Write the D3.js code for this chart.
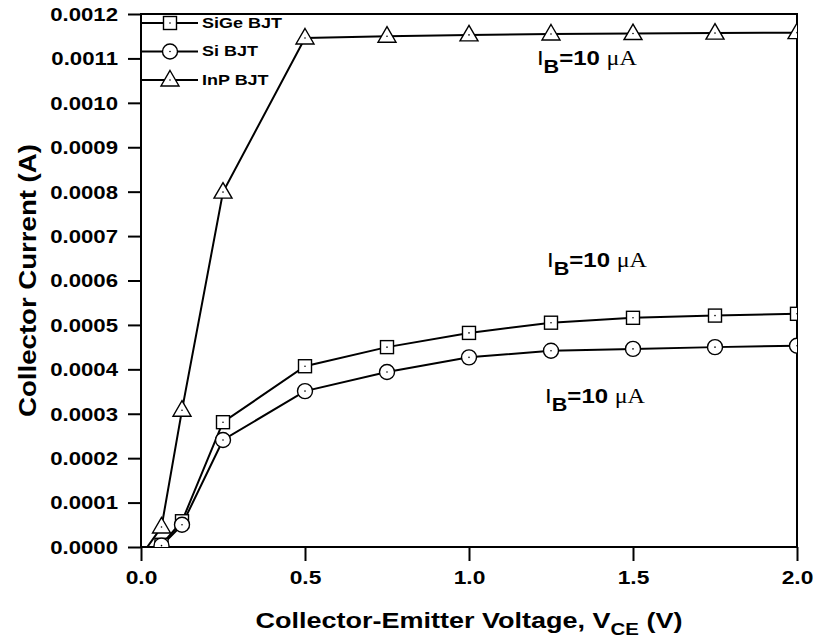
<!DOCTYPE html>
<html>
<head>
<meta charset="utf-8">
<script src="https://cdn.jsdelivr.net/npm/d3@7/dist/d3.min.js"></script>
<style>
  html, body { margin: 0; padding: 0; background: #fff; }
  svg { display: block; }
</style>
</head>
<body>
<svg id="chart" width="813" height="644"></svg>
<script>
// ---- data ----
const vce = [0, 0.0625, 0.125, 0.25, 0.5, 0.75, 1.0, 1.25, 1.5, 1.75, 2.0];
const sigeCurrent = [-0.00002, 0.000005, 0.000058, 0.000281, 0.000407, 0.00045, 0.000482, 0.000505, 0.000516, 0.000521, 0.000525];
const siCurrent   = [-0.00002, 0.000003, 0.00005, 0.000241, 0.000351, 0.000394, 0.000427, 0.000442, 0.000446, 0.00045, 0.000453];
const inpCurrent  = [-0.00002, 0.000045, 0.000308, 0.000799, 0.001146, 0.00115, 0.001153, 0.001155, 0.001156, 0.001157, 0.001158];
const seriesNames = ["SiGe BJT", "Si BJT", "InP BJT"];
const seriesMarkers = ["square", "circle", "triangle"];
const xTicks = [0, 0.5, 1.0, 1.5, 2.0];
const yTicks = [0, 0.0001, 0.0002, 0.0003, 0.0004, 0.0005, 0.0006, 0.0007, 0.0008, 0.0009, 0.0010, 0.0011, 0.0012];
const annotX = [1.207, 1.238, 1.232];
const annotY = [0.001085, 0.00063, 0.000324];

const series = [sigeCurrent, siCurrent, inpCurrent].map((vals, i) => ({
  name: seriesNames[i], marker: seriesMarkers[i],
  points: vce.map((x, j) => ({x, y: vals[j]}))
}));

// ---- layout ----
const margin = {left: 141, top: 14, right: 813 - 797, bottom: 644 - 547};
const W = 813, H = 644;
const pw = W - margin.left - margin.right, ph = H - margin.top - margin.bottom;
const SX = 1.2; // horizontal text stretch
const sans = "'Liberation Sans', Arial, Helvetica, sans-serif";
const serif = "'Liberation Serif', 'Times New Roman', serif";

const svg = d3.select("#chart");
const x = d3.scaleLinear().domain([0, 2]).range([0, pw]);
const y = d3.scaleLinear().domain([0, 0.0012]).range([ph, 0]);

const g = svg.append("g").attr("transform", `translate(${margin.left},${margin.top})`);

svg.append("defs").append("clipPath").attr("id", "plotclip")
  .append("rect").attr("x", 0).attr("y", 0).attr("width", pw).attr("height", ph);

// axes
const yAxis = g.append("g").call(d3.axisLeft(y).tickValues(yTicks).tickFormat(d3.format(".4f")).tickSize(13).tickSizeOuter(0));
const xAxis = g.append("g").attr("transform", `translate(0,${ph})`)
  .call(d3.axisBottom(x).tickValues(xTicks).tickFormat(d3.format(".1f")).tickSize(14).tickSizeOuter(0));
[yAxis, xAxis].forEach(a => {
  a.select(".domain").remove();
  a.selectAll(".tick line").attr("stroke", "#000").attr("stroke-width", 2);
  a.selectAll(".tick text").attr("fill", "#000")
    .style("font-family", sans).style("font-weight", "bold").style("font-size", "18.5px");
});
yAxis.selectAll(".tick text").attr("x", 0).attr("dy", null)
  .attr("dominant-baseline", "central")
  .attr("transform", `translate(-23,0) scale(${SX},1)`);
xAxis.selectAll(".tick text").attr("y", 0).attr("dy", null)
  .style("font-size", "19px")
  .attr("transform", `translate(0,37) scale(${SX},1)`);

// frame
g.append("rect").attr("x", 0).attr("y", 0).attr("width", pw).attr("height", ph)
  .attr("fill", "none").attr("stroke", "#000").attr("stroke-width", 2);

// markers
function drawMarker(sel, type) {
  if (type === "square") {
    sel.append("rect").attr("x", -6.5).attr("y", -6.5).attr("width", 13).attr("height", 13)
      .attr("fill", "#fff").attr("stroke", "#000").attr("stroke-width", 1.4);
  } else if (type === "circle") {
    sel.append("circle").attr("r", 7.5)
      .attr("fill", "#fff").attr("stroke", "#000").attr("stroke-width", 1.4);
  } else {
    sel.append("path").attr("d", "M0,-9.5 L9,6 L-9,6 Z")
      .attr("fill", "#fff").attr("stroke", "#000").attr("stroke-width", 1.4);
  }
  sel.append("circle").attr("r", 0.8).attr("fill", "#000");
}

const plot = g.append("g").attr("clip-path", "url(#plotclip)");
const line = d3.line().x(d => x(d.x)).y(d => y(d.y));
series.forEach(s => {
  plot.append("path").datum(s.points).attr("d", line)
    .attr("fill", "none").attr("stroke", "#000").attr("stroke-width", 2);
});
series.forEach(s => {
  plot.selectAll(null).data(s.points).enter().append("g")
    .attr("transform", d => `translate(${x(d.x)},${y(d.y)})`)
    .each(function() { drawMarker(d3.select(this), s.marker); });
});

// legend
const legend = g.append("g");
series.forEach((s, i) => {
  const ly = 9 + i * 28.5;
  const row = legend.append("g").attr("transform", `translate(0,${ly})`);
  row.append("line").attr("x1", 1).attr("x2", 57).attr("y1", 0).attr("y2", 0)
    .attr("stroke", "#000").attr("stroke-width", 2);
  drawMarker(row.append("g").attr("transform", "translate(29,0)"), s.marker);
  row.append("text").attr("transform", `translate(61,0) scale(${SX},1)`)
    .attr("dominant-baseline", "central")
    .style("font-family", sans).style("font-weight", "bold").style("font-size", "15px")
    .text(s.name);
});

// annotations
annotX.forEach((ax, i) => {
  const t = g.append("text").attr("transform", `translate(${x(ax)},${y(annotY[i])}) scale(${SX},1)`)
    .style("font-family", sans).style("font-size", "20px").attr("fill", "#000");
  t.append("tspan").style("font-weight", "normal").text("I");
  t.append("tspan").style("font-weight", "bold").style("font-size", "18px").attr("dy", 8).text("B");
  t.append("tspan").style("font-weight", "bold").attr("dy", -8).text("=10 ");
  t.append("tspan").style("font-family", serif).style("font-weight", "normal").text("μA");
});

// axis titles
const xt = svg.append("text")
  .attr("transform", `translate(${margin.left + pw / 2},628) scale(${SX},1)`)
  .attr("text-anchor", "middle")
  .style("font-family", sans).style("font-weight", "bold").style("font-size", "22.5px");
xt.append("tspan").text("Collector-Emitter Voltage, V");
xt.append("tspan").attr("dy", 7).style("font-size", "17px").text("CE");
xt.append("tspan").attr("dy", -7).text(" (V)");

svg.append("text")
  .attr("transform", `translate(36,${margin.top + ph / 2}) rotate(-90) scale(${SX},1)`)
  .attr("text-anchor", "middle")
  .style("font-family", sans).style("font-weight", "bold").style("font-size", "23px")
  .text("Collector Current (A)");
</script>
</body>
</html>
